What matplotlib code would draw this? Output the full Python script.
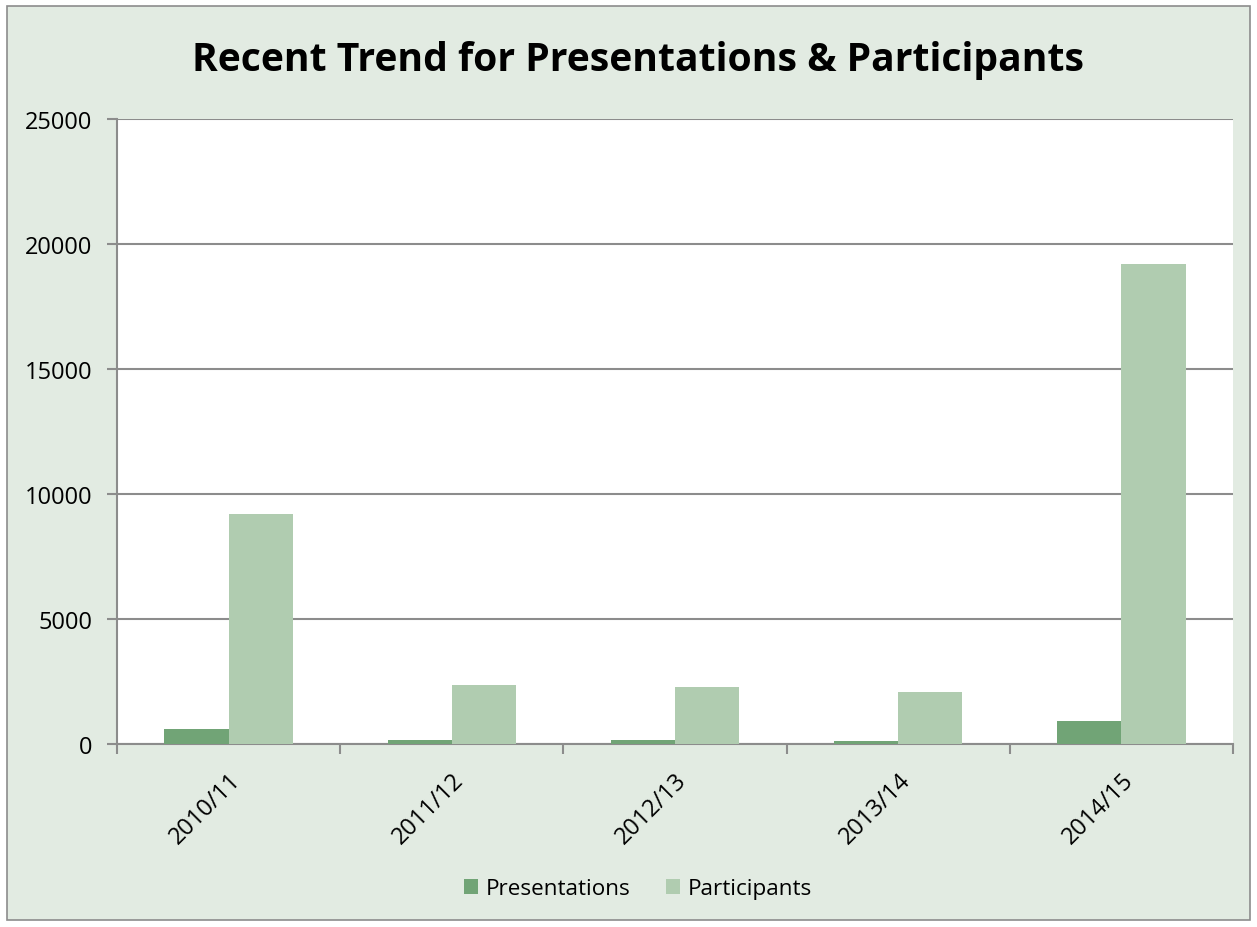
import matplotlib

matplotlib.use("Agg")
import matplotlib.pyplot as plt
import numpy as np
from matplotlib.patches import Rectangle

plt.rcParams["font.family"] = ["Open Sans", "DejaVu Sans"]

YEARS = ["2010/11", "2011/12", "2012/13", "2013/14", "2014/15"]
PRESENTATIONS = [590, 150, 160, 120, 910]
PARTICIPANTS = [9200, 2360, 2280, 2080, 19200]
Y_TICKS = [0, 5000, 10000, 15000, 20000, 25000]

DARK = "#71A476"
LIGHT = "#B0CCB0"
BG = "#E2EBE2"
GRID = "#8C8C8C"


def main() -> None:
    fig = plt.figure(figsize=(12.57, 9.28), dpi=100)
    fig.patch.set_facecolor("white")
    fig.patches.append(
        Rectangle((7 / 1257, 7 / 928), 1243 / 1257, 914 / 928, transform=fig.transFigure,
                  facecolor=BG, edgecolor="#8C8C8C", linewidth=1.2, zorder=-10)
    )

    ax = fig.add_axes([117 / 1257, 183 / 928, 1116 / 1257, 625 / 928])
    ax.set_facecolor("white")

    x = np.arange(len(YEARS))
    width = 0.2875
    ax.bar(x - width / 2, PRESENTATIONS, width, color=DARK, label="Presentations", zorder=3)
    ax.bar(x + width / 2, PARTICIPANTS, width, color=LIGHT, label="Participants", zorder=3)

    ax.set_xlim(-0.5, len(YEARS) - 0.5)
    ax.set_ylim(0, 25000)
    ax.set_yticks(Y_TICKS)
    ax.set_yticklabels([str(v) for v in Y_TICKS], fontsize=17)
    ax.yaxis.grid(True, color=GRID, linewidth=1.5, zorder=0)

    ax.set_xticks(x)
    ax.set_xticklabels(YEARS, rotation=45, ha="right", rotation_mode="anchor", fontsize=17)
    ax.set_xticks(np.arange(-0.5, len(YEARS)), minor=True)
    ax.tick_params(axis="x", which="major", length=0, pad=17)
    ax.tick_params(axis="x", which="minor", length=7, width=1.5, color=GRID, direction="out")
    ax.tick_params(axis="y", length=7, width=1.5, color=GRID, direction="out", pad=11)

    for side in ["top", "right"]:
        ax.spines[side].set_visible(False)
    for side in ["left", "bottom"]:
        ax.spines[side].set_color(GRID)
        ax.spines[side].set_linewidth(1.5)

    fig.text(0.5075, 0.935, "Recent Trend for Presentations & Participants", ha="center", va="center",
             fontsize=28.2, fontweight="bold")

    fig.legend(loc="center", bbox_to_anchor=(638 / 1257, (928 - 890) / 928), ncol=2,
               frameon=False, fontsize=16.2, handlelength=0.62, handleheight=0.62, columnspacing=1.6,
               handletextpad=0.35)

    fig.savefig("out.png", dpi=100, facecolor=fig.get_facecolor())
    plt.close(fig)


if __name__ == "__main__":
    main()
